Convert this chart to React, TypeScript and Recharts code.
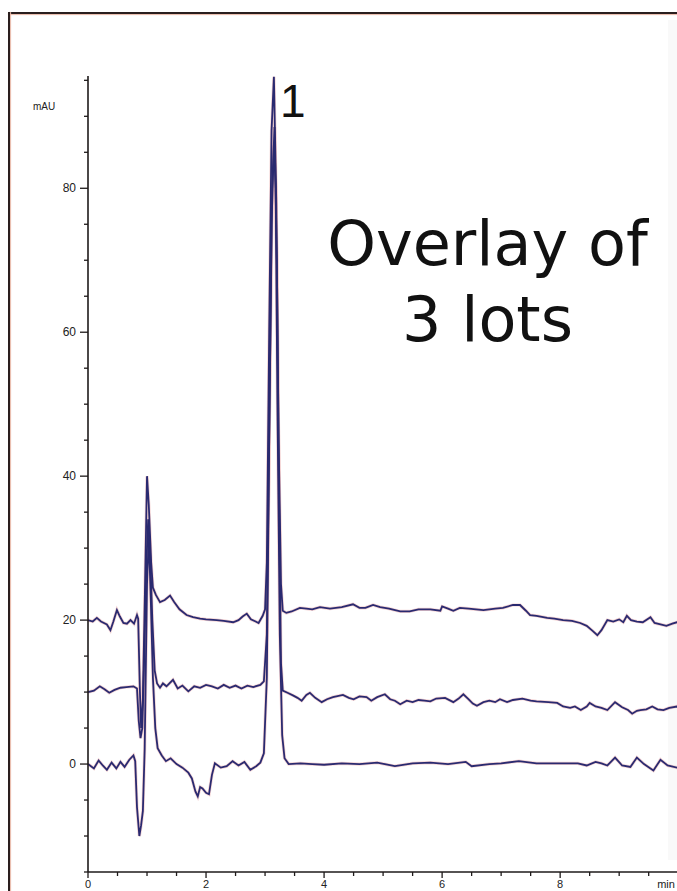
import React from "react";
import { LineChart, Line, XAxis, YAxis } from "recharts";

// retention time (min) and absorbance (mAU) for each lot
const lotATime = [0, 0.1, 0.18, 0.25, 0.32, 0.4, 0.48, 0.55, 0.62, 0.7, 0.77, 0.8, 0.83, 0.87, 0.9, 0.93, 0.96, 1.0, 1.03, 1.06, 1.1, 1.14, 1.18, 1.25, 1.32, 1.4, 1.5, 1.6, 1.7, 1.76, 1.82, 1.86, 1.9, 1.94, 2.0, 2.05, 2.1, 2.15, 2.25, 2.35, 2.45, 2.55, 2.65, 2.75, 2.85, 2.92, 2.98, 3.03, 3.07, 3.11, 3.15, 3.18, 3.21, 3.25, 3.29, 3.33, 3.4, 3.6, 3.8, 4.0, 4.3, 4.6, 4.9, 5.2, 5.5, 5.8, 6.1, 6.4, 6.5, 6.8, 7.0, 7.3, 7.6, 8.0, 8.3, 8.45, 8.6, 8.7, 8.8, 8.93, 9.05, 9.19, 9.3, 9.42, 9.58, 9.7, 9.82, 9.98, 10.2];
const lotAMau = [0, -0.6, 0.5, -0.2, -0.8, 0.2, -0.6, 0.3, -0.4, 0.6, 1.2, 0.4, -6, -10, -8.5, -6.5, 2, 25, 31.5, 24, 12, 5, 2.2, 1.2, 0.4, 0.8, 0, -0.5, -1.2, -2, -3.8, -4.5, -3.2, -3.4, -4, -4.2, -1.5, 0.1, -0.5, -0.3, 0.4, -0.2, 0.3, -0.8, -0.3, 0.2, 1.5, 12, 45, 75, 86, 80, 50, 18, 4, 0.8, 0, 0.1, 0, -0.1, 0.1, 0, 0.2, -0.3, 0.1, 0.2, 0, 0.3, -0.3, 0, 0.1, 0.4, 0.1, 0.1, 0.1, -0.2, 0.3, 0.1, -0.2, 0.9, -0.2, -0.4, 0.9, 0, -0.9, 0.6, -0.2, -0.5, 0];

const lotBTime = [0, 0.1, 0.2, 0.28, 0.36, 0.45, 0.55, 0.65, 0.77, 0.83, 0.86, 0.89, 0.92, 0.95, 0.99, 1.02, 1.05, 1.09, 1.13, 1.17, 1.22, 1.27, 1.33, 1.44, 1.52, 1.6, 1.7, 1.8, 1.9, 2.0, 2.1, 2.2, 2.3, 2.4, 2.5, 2.6, 2.7, 2.8, 2.92, 2.98, 3.03, 3.08, 3.12, 3.16, 3.2, 3.24, 3.27, 3.3, 3.38, 3.48, 3.55, 3.62, 3.7, 3.76, 3.85, 3.96, 4.05, 4.15, 4.32, 4.42, 4.5, 4.6, 4.72, 4.8, 4.9, 5.03, 5.12, 5.2, 5.29, 5.4, 5.5, 5.6, 5.7, 5.8, 5.9, 6.05, 6.19, 6.28, 6.36, 6.45, 6.52, 6.59, 6.7, 6.8, 6.9, 6.98, 7.1, 7.2, 7.36, 7.5, 7.6, 7.8, 7.95, 8.05, 8.17, 8.25, 8.35, 8.45, 8.5, 8.6, 8.7, 8.8, 8.93, 9.05, 9.15, 9.22, 9.3, 9.36, 9.46, 9.56, 9.65, 9.75, 9.85, 9.98, 10.2];
const lotBMau = [10, 10.2, 10.8, 10.4, 9.9, 10.3, 10.6, 10.7, 10.8, 10.5, 6, 3.6, 5, 14, 28, 34, 30, 20, 13, 11.2, 10.6, 11.2, 10.8, 11.7, 10.5, 10.9, 10.1, 10.8, 10.6, 11, 10.8, 10.5, 11, 10.6, 10.9, 10.5, 10.9, 10.7, 11, 11.5, 18, 52, 80, 88.5, 70, 35, 14, 10.2, 9.9, 9.5, 9.2, 8.8, 9.6, 9.9, 9.2, 8.6, 9, 9.3, 9.6, 9.2, 9.0, 9.4, 9.3, 8.8, 9.3, 9.7, 9.0, 8.8, 8.3, 8.8, 8.6, 8.9, 8.8, 8.7, 9.1, 9.2, 8.6, 9.1, 9.7, 9.0, 8.4, 8.1, 8.6, 8.8, 8.6, 9.0, 8.6, 8.9, 9.1, 8.8, 8.7, 8.6, 8.5, 8.0, 7.8, 8.0, 7.5, 8.0, 8.5, 8.0, 7.8, 7.5, 8.6, 7.9, 7.5, 7.0, 7.4, 7.5, 7.6, 8.0, 7.6, 7.5, 7.8, 8.0, 7.8];

const lotCTime = [0, 0.08, 0.15, 0.22, 0.32, 0.38, 0.43, 0.49, 0.54, 0.6, 0.66, 0.72, 0.78, 0.83, 0.85, 0.88, 0.9, 0.93, 0.96, 1.0, 1.03, 1.07, 1.1, 1.15, 1.22, 1.3, 1.39, 1.46, 1.55, 1.67, 1.78, 1.9, 2.0, 2.18, 2.3, 2.46, 2.55, 2.62, 2.69, 2.76, 2.84, 2.89, 2.96, 3.0, 3.03, 3.07, 3.11, 3.15, 3.19, 3.23, 3.27, 3.3, 3.36, 3.45, 3.59, 3.7, 3.8, 3.93, 4.1, 4.3, 4.49, 4.6, 4.7, 4.83, 4.95, 5.1, 5.29, 5.45, 5.6, 5.8, 5.97, 6.0, 6.1, 6.19, 6.3, 6.45, 6.7, 6.9, 7.03, 7.2, 7.32, 7.42, 7.49, 7.6, 7.78, 7.9, 8.05, 8.2, 8.34, 8.45, 8.55, 8.63, 8.7, 8.8, 8.9, 9.0, 9.07, 9.13, 9.2, 9.3, 9.4, 9.53, 9.6, 9.7, 9.8, 9.9, 9.98, 10.2];
const lotCMau = [20, 19.8, 20.3, 19.8, 19.4, 18.6, 19.8, 21.4, 20.5, 19.6, 19.5, 20.0, 19.5, 20.7, 20.2, 10, 5, 9, 22, 40, 36, 28, 24.5, 23.5, 22.5, 22.8, 23.4, 22.5, 21.5, 20.7, 20.4, 20.2, 20.1, 20.0, 19.9, 19.7, 20.0, 20.5, 20.9, 20.1, 19.8, 19.6, 20.6, 21.5, 28, 60, 88, 95.5, 78, 45, 25, 21.3, 21.0, 21.2, 21.7, 21.6, 21.5, 21.8, 21.6, 21.8, 22.2, 21.7, 21.7, 22.1, 21.8, 21.6, 21.2, 21.2, 21.5, 21.5, 21.3, 21.9, 21.6, 21.3, 21.7, 21.6, 21.4, 21.6, 21.7, 22.1, 22.1, 21.3, 20.7, 20.6, 20.3, 20.2, 20.0, 19.9, 19.6, 19.2, 18.5, 17.9, 18.6, 20.0, 19.8, 20.1, 19.7, 20.6, 20.0, 19.8, 19.7, 20.4, 19.6, 19.4, 19.2, 19.5, 19.7, 19.8];

const xTicks = [0, 0.5, 1, 1.5, 2, 2.5, 3, 3.5, 4, 4.5, 5, 5.5, 6, 6.5, 7, 7.5, 8, 8.5, 9, 9.5, 10];
const yTicks = [-15, -10, -5, 0, 5, 10, 15, 20, 25, 30, 35, 40, 45, 50, 55, 60, 65, 70, 75, 80, 85, 90, 95];

const toRows = (t: number[], v: number[]) => t.map((x, i) => ({ t: x, mau: v[i] }));
const lots = [
  { name: "lotA", data: toRows(lotATime, lotAMau) },
  { name: "lotB", data: toRows(lotBTime, lotBMau) },
  { name: "lotC", data: toRows(lotCTime, lotCMau) },
];

const ink = "#2a2a70";
const axisInk = "#1e1a1a";
const tickFont = "'Liberation Sans', Arial, sans-serif";

const XTick = (props: any) => {
  const { x, y, payload } = props;
  const v = payload.value;
  const major = v % 2 === 0;
  return (
    <g>
      <line x1={x} x2={x} y1={y} y2={y + (major ? 6 : 4)} stroke={axisInk} strokeWidth={1.3} />
      {major && (
        <text
          x={v === 10 ? x - 21 : x}
          y={y + 16}
          textAnchor={v === 10 ? "start" : "middle"}
          fontSize={11}
          fontFamily={tickFont}
          fill="#222"
        >
          {v === 10 ? "min" : v}
        </text>
      )}
    </g>
  );
};

const YTick = (props: any) => {
  const { x, y, payload } = props;
  const v = payload.value;
  const major = v % 20 === 0;
  return (
    <g>
      <line x1={x} x2={x - (major ? 8 : 4)} y1={y} y2={y} stroke={axisInk} strokeWidth={1.3} />
      {major && (
        <text x={x - 12} y={y + 4} textAnchor="end" fontSize={12} fontFamily={tickFont} fill="#222">
          {v}
        </text>
      )}
    </g>
  );
};

export default function App() {
  return (
    <div
      style={{
        position: "fixed",
        left: 0,
        top: 0,
        width: 677,
        height: 891,
        overflow: "hidden",
        background: "#fff",
      }}
    >
      {/* frame of the scanned figure */}
      <div style={{ position: "absolute", left: 8, top: 12, width: 700, height: 2, background: "#2a1e1e", boxShadow: "0 1px 1px #e8b8a8" }} />
      <div style={{ position: "absolute", left: 8, top: 12, width: 2, height: 900, background: "#2a1e1e", boxShadow: "1px 0 1px #e8b8a8" }} />
      <div style={{ position: "absolute", left: 668, top: 20, width: 9, height: 840, background: "#f9f9f9" }} />

      <div style={{ position: "absolute", left: 0, top: 0 }}>
        <LineChart width={700} height={891} margin={{ top: 76, right: 10, left: 0, bottom: 0 }}>
          <XAxis
            type="number"
            dataKey="t"
            domain={[0, 10.2]}
            ticks={xTicks}
            tick={<XTick />}
            tickSize={0}
            tickMargin={0}
            height={19}
            stroke={axisInk}
            strokeWidth={1.6}
            allowDuplicatedCategory={false}
          />
          <YAxis
            type="number"
            dataKey="mau"
            domain={[-15, 95.6]}
            ticks={yTicks}
            tick={<YTick />}
            tickSize={0}
            tickMargin={0}
            width={88}
            stroke={axisInk}
            strokeWidth={1.6}
            interval={0}
          />
          {lots.map((lot) => (
            <Line
              key={lot.name + "-halo"}
              data={lot.data}
              dataKey="mau"
              type="linear"
              stroke="#e9a7a7"
              strokeWidth={3.2}
              strokeOpacity={0.5}
              dot={false}
              activeDot={false}
              isAnimationActive={false}
            />
          ))}
          {lots.map((lot) => (
            <Line
              key={lot.name}
              data={lot.data}
              dataKey="mau"
              type="linear"
              stroke={ink}
              strokeWidth={1.8}
              dot={false}
              activeDot={false}
              isAnimationActive={false}
            />
          ))}
        </LineChart>
      </div>

      <div style={{ position: "absolute", left: 33, top: 101, fontFamily: tickFont, fontSize: 10, color: "#222" }}>mAU</div>
      <div style={{ position: "absolute", left: 280, top: 78, fontFamily: tickFont, fontSize: 46, color: "#111", lineHeight: 1 }}>1</div>
      <div
        style={{
          position: "absolute",
          left: 300,
          top: 206,
          width: 375,
          textAlign: "center",
          fontFamily: "'DejaVu Sans', Verdana, sans-serif",
          fontSize: 62,
          lineHeight: "76px",
          color: "#111",
        }}
      >
        Overlay of
        <br />3 lots
      </div>
    </div>
  );
}
